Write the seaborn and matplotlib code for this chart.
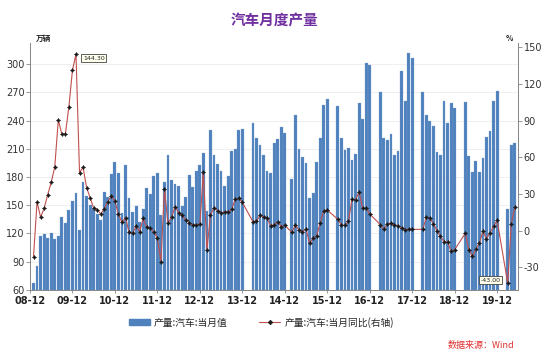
import numpy as np
import pandas as pd
import matplotlib
matplotlib.use("Agg")
import matplotlib.pyplot as plt
import seaborn as sns
from matplotlib.patches import Patch
from matplotlib.lines import Line2D

# monthly series, 2009-01 .. 2020-05 (Jan/Feb not published in later years)
months = pd.period_range("2009-01", "2020-05", freq="M")

production = [
	67.8, 85.5, 117.3, 119.1, 114.9, 120.2, 114.2, 117.3, 137.5, 131.5, 144.6, 154.2,
	163.3, 123.7, 175.0, 159.8, 150.6, 145.7, 140.4, 134.3, 164.4, 159.1, 182.9, 195.9,
	184.6, 141.5, 192.8, 157.4, 143.2, 149.5, 132.6, 145.7, 168.3, 161.9, 180.6, 183.8,
	139.7, 174.3, 203.4, 176.8, 172.2, 170.4, 149.5, 159.2, 182.0, 169.0, 186.4, 192.8,
	205.8, 144.2, 229.9, 203.4, 193.5, 186.4, 170.8, 180.6, 207.6, 209.4, 229.9, 230.6,
	None, None, 237.7, 221.4, 213.6, 203.4, 186.4, 184.3, 216.2, 220.0, 233.2, 226.4,
	None, 177.5, 245.9, 210.1, 201.5, 195.4, 157.2, 163.3, 196.2, 220.9, 256.5, 263.0,
	None, None, 255.8, 221.0, 209.2, 211.0, 198.5, 204.2, 258.2, 241.7, 301.0, 299.0,
	None, None, 270.6, 221.8, 219.3, 225.3, 203.0, 208.0, 292.6, 260.3, 311.4, 306.3,
	None, None, 270.6, 245.5, 239.5, 234.2, 206.9, 203.6, 261.0, 237.0, 259.0, 253.2,
	None, None, 259.8, 202.3, 185.7, 197.0, 185.3, 200.5, 222.5, 228.9, 261.0, 271.3,
	None, None, 146.0, 214.0, 215.8,
]

yoy = [
	-21.3, 23.5, 11.0, 18.3, 29.4, 39.5, 52.0, 90.6, 79.1, 79.1, 101.5, 131.2,
	144.3, 47.5, 51.9, 35.2, 27.0, 18.3, 17.2, 13.7, 18.0, 23.7, 28.5, 24.3,
	13.4, 6.9, 10.7, -1.3, -2.0, 3.8, -0.8, 10.1, 2.7, 1.9, -0.8, -6.2,
	-25.4, 33.8, 6.0, 11.0, 19.7, 14.7, 12.8, 8.8, 6.6, 4.7, 4.7, 5.5,
	48.3, -15.8, 12.8, 18.8, 16.4, 14.2, 15.6, 15.0, 17.5, 25.7, 26.5, 23.2,
	None, None, 7.4, 7.9, 12.5, 11.5, 10.4, 3.8, 5.0, 7.2, 3.4, 4.4,
	None, -1.3, 4.6, 0.6, -0.8, 1.4, -10.3, -6.2, -4.3, 6.1, 16.4, 16.9,
	None, None, 9.3, 4.7, 4.4, 7.9, 25.9, 25.1, 31.9, 18.3, 18.3, 13.7,
	None, None, 5.0, 1.1, 5.5, 6.0, 4.7, 4.2, 2.3, 0.8, 1.5, 1.1,
	None, None, 1.1, 11.0, 10.1, 5.8, 0.0, -4.5, -9.0, -9.0, -17.0, -15.5,
	None, None, -2.2, -15.5, -21.0, -15.1, -10.0, -0.4, -6.6, -1.6, 3.6, 8.4,
	None, None, -43.0, 5.5, 19.3,
]

year_labels = ["08-12", "09-12", "10-12", "11-12", "12-12", "13-12",
	"14-12", "15-12", "16-12", "17-12", "18-12", "19-12"]

bar_color = "#4F81BD"
line_color = "#C0504D"

sns.set_theme(style="white")
plt.rcParams["font.family"] = ["Noto Sans CJK SC", "DejaVu Sans"]
plt.rcParams["axes.unicode_minus"] = False

df = pd.DataFrame({
	"pos": np.arange(len(months)),
	"prod": pd.to_numeric(pd.Series(production, dtype="object"), errors="coerce"),
	"yoy": pd.to_numeric(pd.Series(yoy, dtype="object"), errors="coerce"),
})
bars = df.dropna(subset=["prod"])
line = df.dropna(subset=["yoy"])

fig = plt.figure(figsize=(5.5, 3.54), dpi=100)
ax = fig.add_axes([0.0545, 0.1808, 0.8873, 0.6977])

ax.grid(axis="y", color="#ECECEC", linewidth=0.6)
ax.set_axisbelow(True)
sns.barplot(data=bars, x="pos", y="prod", native_scale=True, color=bar_color,
	width=0.8, saturation=1, edgecolor="#7EA3D2", linewidth=0.2, ax=ax)

ax2 = ax.twinx()
sns.lineplot(data=line, x="pos", y="yoy", ax=ax2, color=line_color, linewidth=0.8,
	marker=(4, 1, 0), markersize=3.0, markerfacecolor="#1A1A1A",
	markeredgecolor="#1A1A1A", markeredgewidth=0.4, errorbar=None)

ax.set_xlim(-0.93, 136.9)
ax.set_ylim(60, 322.3)
ax2.set_ylim(-48.5, 153.5)

ax.set_xticks(np.arange(len(year_labels)) * 12 - 1)
ax.set_xticklabels(year_labels, fontsize=7, fontweight="bold", color="#222222",
	family="DejaVu Sans")
ax.set_yticks(np.arange(60, 301, 30))
ax.set_yticklabels([str(v) for v in range(60, 301, 30)], fontsize=7,
	color="#333333", family="DejaVu Sans")
ax2.set_yticks(np.arange(-30, 151, 30))
ax2.set_yticklabels([str(v) for v in range(-30, 151, 30)], fontsize=7,
	color="#333333", family="DejaVu Sans")
ax.set_xlabel("")
ax.set_ylabel("")
ax2.set_xlabel("")
ax2.set_ylabel("")

for a in (ax, ax2):
	a.spines["top"].set_visible(False)
	for s in ("left", "right", "bottom"):
		a.spines[s].set_color("#888888")
		a.spines[s].set_linewidth(0.7)
ax.tick_params(axis="y", direction="out", length=3, width=0.6, color="#888888", pad=1, left=True)
ax.tick_params(axis="x", direction="out", length=2.5, width=0.6, color="#888888", pad=2, bottom=True)
ax2.tick_params(axis="y", direction="out", length=3, width=0.6, color="#888888", pad=1, right=True)

ax.text(0.012, 1.0, "万辆", transform=ax.transAxes, fontsize=5.5, fontweight="bold",
	ha="left", va="bottom", color="#222222")
ax2.text(0.99, 1.0, "%", transform=ax2.transAxes, fontsize=5.5, fontweight="bold",
	ha="right", va="bottom", color="#222222")

box = dict(boxstyle="square,pad=0.25", fc="#FFFFEE", ec="#444444", lw=0.6)
peak = line.loc[line["yoy"].idxmax()]
low = line.loc[line["yoy"].idxmin()]
ax2.annotate(f"{peak['yoy']:.2f}", xy=(peak["pos"], peak["yoy"]), xytext=(7, -4),
	textcoords="offset pixels", fontsize=4.5, ha="left", va="center", bbox=box,
	family="DejaVu Sans")
ax2.annotate(f"{low['yoy']:.2f}", xy=(low["pos"], low["yoy"]), xytext=(-7, 3),
	textcoords="offset pixels", fontsize=4.5, ha="right", va="center", bbox=box,
	family="DejaVu Sans")

fig.text(0.5, 0.943, "汽车月度产量", ha="center", va="center", fontsize=10.5,
	fontweight="bold", color="#7030A0")

handles = [
	Patch(facecolor=bar_color, edgecolor=bar_color),
	Line2D([], [], color=line_color, linewidth=0.8, marker=(4, 1, 0), markersize=3.0,
		markerfacecolor="#1A1A1A", markeredgecolor="#1A1A1A"),
]
fig.legend(handles, ["产量:汽车:当月值", "产量:汽车:当月同比(右轴)"], loc="center",
	bbox_to_anchor=(0.475, 0.09), ncol=2, frameon=False, fontsize=7,
	handlelength=2.2, handletextpad=0.4, columnspacing=3.2)

fig.text(0.935, 0.025, "数据来源：Wind", ha="right", va="center", fontsize=6.5,
	color="#E03030", style="italic")

fig.savefig("out.png", dpi=100)
